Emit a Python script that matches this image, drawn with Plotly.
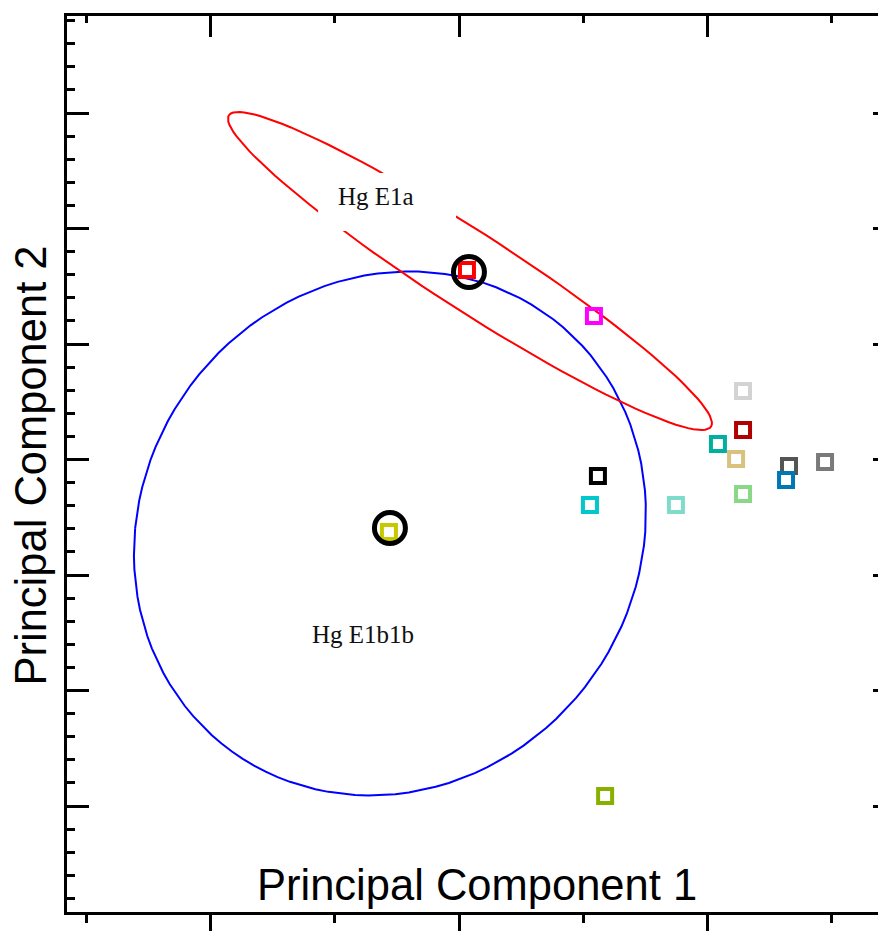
import numpy as np
import plotly.graph_objects as go

# PCA scores of the populations (open squares)
pc1 = [0.032, 0.543, -0.282, 0.559, 0.527, 0.873, 1.143, 1.143, 1.042, 1.115,
       1.143, 1.328, 1.316, 1.473, 0.588]
pc2 = [1.641, 1.242, -0.628, -0.143, -0.394, -0.394, 0.593, 0.255, 0.134, 0.004,
       -0.299, -0.056, -0.177, -0.022, -2.913]
colors = ['#FF0000', '#FF00FF', '#C8C800', '#000000', '#00C8CC', '#7FDCCB',
          '#D3D3D3', '#B00000', '#00AFA0', '#D9C27E', '#88D888', '#555555',
          '#0078B4', '#7A7A7A', '#88B000']

# haplogroup means (black circles)
mean_pc1 = [0.040, -0.278]
mean_pc2 = [1.623, -0.593]

# confidence ellipses: centre + covariance
e1a_center = [0.044, 1.632]
e1a_cov = [[0.9484, -1.2833], [-1.2833, 1.895]]
e1b1b_center = [-0.278, -0.64]
e1b1b_cov = [[1.0613, 0.1812], [0.1812, 5.1457]]

group_labels = ['Hg E1a', 'Hg E1b1b']
label_pc1 = [-0.334, -0.386]
label_pc2 = [2.276, -1.516]


def ellipse_xy(center, cov, n=120):
    vals, vecs = np.linalg.eigh(np.array(cov))
    t = np.linspace(0, 2 * np.pi, n)
    pts = vecs @ (np.sqrt(vals)[:, None] * np.vstack([np.cos(t), np.sin(t)]))
    return pts[0] + center[0], pts[1] + center[1]


fig = go.Figure()

bx, by = ellipse_xy(e1b1b_center, e1b1b_cov)
fig.add_trace(go.Scatter(x=bx, y=by, mode='lines', line=dict(color='#0000FF', width=2),
                         hoverinfo='skip'))
rx, ry = ellipse_xy(e1a_center, e1a_cov)
fig.add_trace(go.Scatter(x=rx, y=ry, mode='lines', line=dict(color='#FF0000', width=2),
                         hoverinfo='skip'))

fig.add_trace(go.Scatter(
    x=pc1, y=pc2, mode='markers',
    marker=dict(symbol='square-open', size=14, color=colors,
                line=dict(color=colors, width=4))
))

fig.add_trace(go.Scatter(
    x=mean_pc1, y=mean_pc2, mode='markers',
    marker=dict(symbol='circle-open', size=31, color='black',
                line=dict(color='black', width=5))
))

# empty traces so the mirrored top / right axes get drawn
fig.add_trace(go.Scatter(x=[], y=[], xaxis='x2', yaxis='y', hoverinfo='skip'))
fig.add_trace(go.Scatter(x=[], y=[], xaxis='x', yaxis='y2', hoverinfo='skip'))

# white box behind the Hg E1a label
fig.add_shape(type='rect', x0=-0.567, x1=-0.012, y0=1.978, y1=2.481,
              fillcolor='white', line=dict(width=0), layer='above')

for txt, lx, ly in zip(group_labels, label_pc1, label_pc2):
    fig.add_annotation(x=lx, y=ly, text=txt, showarrow=False,
                       font=dict(family='Liberation Serif', size=25, color='#111111'))

fig.add_annotation(xref='paper', yref='paper', x=0.5012, y=0.0301,
                   text='Principal Component 1', showarrow=False,
                   xanchor='center', yanchor='middle',
                   font=dict(family='Liberation Sans', size=43.5, color='black'))
fig.add_annotation(xref='paper', yref='paper', x=-0.0445, y=0.4978,
                   text='Principal Component 2', showarrow=False, textangle=-90,
                   xanchor='center', yanchor='middle',
                   font=dict(family='Liberation Sans', size=43.5, color='black'))

xr = [-1.5775, 1.7183]
yr = [-3.9177, 3.8398]

# page body has an 8px default margin, so margins are trimmed to compensate
fig.update_layout(
    width=886, height=931,
    margin=dict(l=59, r=8, t=8, b=27),
    plot_bgcolor='white', paper_bgcolor='white',
    showlegend=False,
    xaxis=dict(range=xr, showline=True, linecolor='black', linewidth=3,
               ticks='outside', ticklen=17, tickwidth=3, tickcolor='black',
               tick0=0, dtick=1, showticklabels=False, showgrid=False, zeroline=False,
               minor=dict(ticks='outside', ticklen=8, tickwidth=3, tickcolor='black',
                          dtick=0.5, showgrid=False)),
    xaxis2=dict(range=xr, overlaying='x', side='top', anchor='y', showline=True,
                linecolor='black', linewidth=3, ticks='inside', ticklen=21, tickwidth=3,
                tickcolor='black', tick0=0, dtick=1, showticklabels=False,
                showgrid=False, zeroline=False,
                minor=dict(ticks='inside', ticklen=7, tickwidth=3, tickcolor='black',
                           dtick=0.5, showgrid=False)),
    yaxis=dict(range=yr, showline=True, linecolor='black', linewidth=3,
               ticks='inside', ticklen=22, tickwidth=3, tickcolor='black',
               tick0=0, dtick=1, showticklabels=False, showgrid=False, zeroline=False,
               minor=dict(ticks='inside', ticklen=8, tickwidth=3, tickcolor='black',
                          dtick=0.2, showgrid=False)),
    yaxis2=dict(range=yr, overlaying='y', side='right', anchor='x', showline=False,
                ticks='inside', ticklen=13, tickwidth=3, tickcolor='black',
                tick0=0, dtick=1, showticklabels=False, showgrid=False, zeroline=False),
)

fig.write_html("out.html")
